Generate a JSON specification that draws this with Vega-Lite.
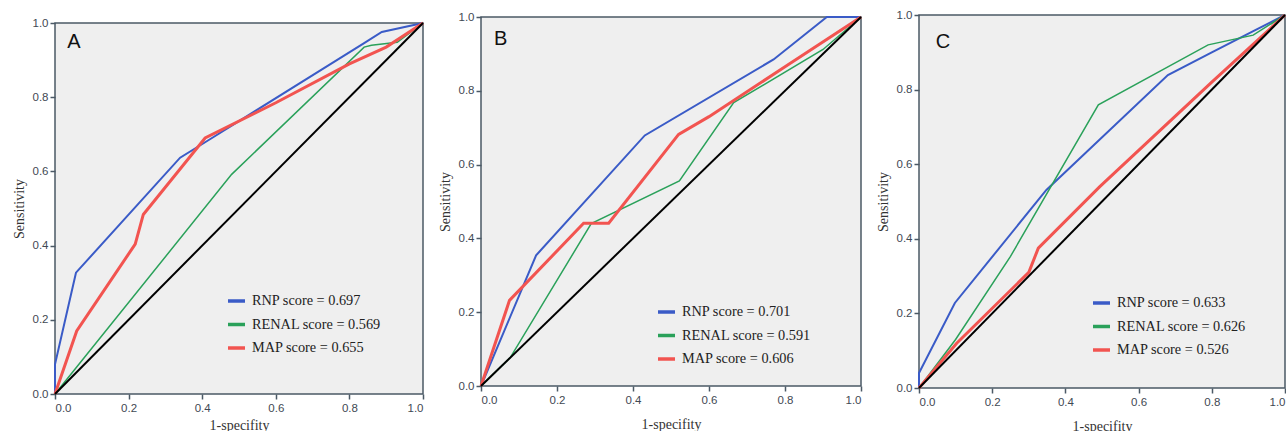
{
  "$schema": "https://vega.github.io/schema/vega-lite/v6.json",
  "background": "white",
  "padding": {"left": 11, "top": 2, "right": 0, "bottom": 0},
  "config": {
    "view": {"fill": "#efefef", "stroke": "#4b5966", "strokeWidth": 1.5},
    "axis": {
      "grid": false, "domain": false, "tickColor": "#4b5966", "tickSize": 5, "tickWidth": 1.5,
      "labelFont": "Liberation Sans", "labelFontSize": 11.5, "labelColor": "#3f4953", "labelPadding": 2,
      "titleFont": "Liberation Serif, DejaVu Serif, serif", "titleFontSize": 14, "titleFontWeight": "normal", "titleColor": "#333333"
    },
    "axisX": {"labelPadding": 3, "titlePadding": 5},
    "axisY": {"titlePadding": 6},
    "legend": {
      "symbolType": "stroke", "symbolStrokeWidth": 3.5, "symbolSize": 289,
      "labelFont": "Liberation Serif, DejaVu Serif, serif", "labelFontSize": 14.3, "labelColor": "#222222",
      "labelOffset": 5, "rowPadding": 5.5, "padding": 0, "labelLimit": 300
    }
  },
  "datasets": {
    "roc": [
      {"p": "A", "s": "RNP", "label": "RNP score = 0.697", "i": 0, "x": 0, "y": 0},
      {"p": "A", "s": "RNP", "label": "RNP score = 0.697", "i": 1, "x": 0, "y": 0.08},
      {"p": "A", "s": "RNP", "label": "RNP score = 0.697", "i": 2, "x": 0.057, "y": 0.327},
      {"p": "A", "s": "RNP", "label": "RNP score = 0.697", "i": 3, "x": 0.34, "y": 0.637},
      {"p": "A", "s": "RNP", "label": "RNP score = 0.697", "i": 4, "x": 0.42, "y": 0.686},
      {"p": "A", "s": "RNP", "label": "RNP score = 0.697", "i": 5, "x": 0.84, "y": 0.946},
      {"p": "A", "s": "RNP", "label": "RNP score = 0.697", "i": 6, "x": 0.888, "y": 0.976},
      {"p": "A", "s": "RNP", "label": "RNP score = 0.697", "i": 7, "x": 1, "y": 1},
      {"p": "A", "s": "RENAL", "label": "RENAL score = 0.569", "i": 0, "x": 0, "y": 0},
      {"p": "A", "s": "RENAL", "label": "RENAL score = 0.569", "i": 1, "x": 0.065, "y": 0.08},
      {"p": "A", "s": "RENAL", "label": "RENAL score = 0.569", "i": 2, "x": 0.48, "y": 0.592},
      {"p": "A", "s": "RENAL", "label": "RENAL score = 0.569", "i": 3, "x": 0.84, "y": 0.935},
      {"p": "A", "s": "RENAL", "label": "RENAL score = 0.569", "i": 4, "x": 0.86, "y": 0.94},
      {"p": "A", "s": "RENAL", "label": "RENAL score = 0.569", "i": 5, "x": 0.93, "y": 0.948},
      {"p": "A", "s": "RENAL", "label": "RENAL score = 0.569", "i": 6, "x": 1, "y": 1},
      {"p": "A", "s": "MAP", "label": "MAP score = 0.655", "i": 0, "x": 0, "y": 0},
      {"p": "A", "s": "MAP", "label": "MAP score = 0.655", "i": 1, "x": 0.059, "y": 0.17},
      {"p": "A", "s": "MAP", "label": "MAP score = 0.655", "i": 2, "x": 0.218, "y": 0.404},
      {"p": "A", "s": "MAP", "label": "MAP score = 0.655", "i": 3, "x": 0.24, "y": 0.484},
      {"p": "A", "s": "MAP", "label": "MAP score = 0.655", "i": 4, "x": 0.408, "y": 0.69},
      {"p": "A", "s": "MAP", "label": "MAP score = 0.655", "i": 5, "x": 0.6, "y": 0.785},
      {"p": "A", "s": "MAP", "label": "MAP score = 0.655", "i": 6, "x": 0.8, "y": 0.89},
      {"p": "A", "s": "MAP", "label": "MAP score = 0.655", "i": 7, "x": 0.9, "y": 0.935},
      {"p": "A", "s": "MAP", "label": "MAP score = 0.655", "i": 8, "x": 1, "y": 1},
      {"p": "B", "s": "RNP", "label": "RNP score = 0.701", "i": 0, "x": 0, "y": 0},
      {"p": "B", "s": "RNP", "label": "RNP score = 0.701", "i": 1, "x": 0.145, "y": 0.354},
      {"p": "B", "s": "RNP", "label": "RNP score = 0.701", "i": 2, "x": 0.431, "y": 0.679},
      {"p": "B", "s": "RNP", "label": "RNP score = 0.701", "i": 3, "x": 0.77, "y": 0.885},
      {"p": "B", "s": "RNP", "label": "RNP score = 0.701", "i": 4, "x": 0.91, "y": 1},
      {"p": "B", "s": "RNP", "label": "RNP score = 0.701", "i": 5, "x": 1, "y": 1},
      {"p": "B", "s": "RENAL", "label": "RENAL score = 0.591", "i": 0, "x": 0, "y": 0},
      {"p": "B", "s": "RENAL", "label": "RENAL score = 0.591", "i": 1, "x": 0.077, "y": 0.077},
      {"p": "B", "s": "RENAL", "label": "RENAL score = 0.591", "i": 2, "x": 0.29, "y": 0.44},
      {"p": "B", "s": "RENAL", "label": "RENAL score = 0.591", "i": 3, "x": 0.522, "y": 0.556},
      {"p": "B", "s": "RENAL", "label": "RENAL score = 0.591", "i": 4, "x": 0.665, "y": 0.768},
      {"p": "B", "s": "RENAL", "label": "RENAL score = 0.591", "i": 5, "x": 0.9, "y": 0.912},
      {"p": "B", "s": "RENAL", "label": "RENAL score = 0.591", "i": 6, "x": 1, "y": 1},
      {"p": "B", "s": "MAP", "label": "MAP score = 0.606", "i": 0, "x": 0, "y": 0},
      {"p": "B", "s": "MAP", "label": "MAP score = 0.606", "i": 1, "x": 0.075, "y": 0.232},
      {"p": "B", "s": "MAP", "label": "MAP score = 0.606", "i": 2, "x": 0.27, "y": 0.441},
      {"p": "B", "s": "MAP", "label": "MAP score = 0.606", "i": 3, "x": 0.336, "y": 0.441},
      {"p": "B", "s": "MAP", "label": "MAP score = 0.606", "i": 4, "x": 0.52, "y": 0.682},
      {"p": "B", "s": "MAP", "label": "MAP score = 0.606", "i": 5, "x": 0.6, "y": 0.73},
      {"p": "B", "s": "MAP", "label": "MAP score = 0.606", "i": 6, "x": 0.8, "y": 0.865},
      {"p": "B", "s": "MAP", "label": "MAP score = 0.606", "i": 7, "x": 1, "y": 1},
      {"p": "C", "s": "RNP", "label": "RNP score = 0.633", "i": 0, "x": 0, "y": 0},
      {"p": "C", "s": "RNP", "label": "RNP score = 0.633", "i": 1, "x": 0, "y": 0.04},
      {"p": "C", "s": "RNP", "label": "RNP score = 0.633", "i": 2, "x": 0.098, "y": 0.228},
      {"p": "C", "s": "RNP", "label": "RNP score = 0.633", "i": 3, "x": 0.348, "y": 0.531},
      {"p": "C", "s": "RNP", "label": "RNP score = 0.633", "i": 4, "x": 0.68, "y": 0.839},
      {"p": "C", "s": "RNP", "label": "RNP score = 0.633", "i": 5, "x": 0.8, "y": 0.9},
      {"p": "C", "s": "RNP", "label": "RNP score = 0.633", "i": 6, "x": 0.92, "y": 0.96},
      {"p": "C", "s": "RNP", "label": "RNP score = 0.633", "i": 7, "x": 1, "y": 1},
      {"p": "C", "s": "RENAL", "label": "RENAL score = 0.626", "i": 0, "x": 0, "y": 0},
      {"p": "C", "s": "RENAL", "label": "RENAL score = 0.626", "i": 1, "x": 0.1, "y": 0.13},
      {"p": "C", "s": "RENAL", "label": "RENAL score = 0.626", "i": 2, "x": 0.25, "y": 0.353},
      {"p": "C", "s": "RENAL", "label": "RENAL score = 0.626", "i": 3, "x": 0.49, "y": 0.759},
      {"p": "C", "s": "RENAL", "label": "RENAL score = 0.626", "i": 4, "x": 0.79, "y": 0.92},
      {"p": "C", "s": "RENAL", "label": "RENAL score = 0.626", "i": 5, "x": 0.913, "y": 0.946},
      {"p": "C", "s": "RENAL", "label": "RENAL score = 0.626", "i": 6, "x": 1, "y": 1},
      {"p": "C", "s": "MAP", "label": "MAP score = 0.526", "i": 0, "x": 0, "y": 0},
      {"p": "C", "s": "MAP", "label": "MAP score = 0.526", "i": 1, "x": 0.103, "y": 0.12},
      {"p": "C", "s": "MAP", "label": "MAP score = 0.526", "i": 2, "x": 0.3, "y": 0.31},
      {"p": "C", "s": "MAP", "label": "MAP score = 0.526", "i": 3, "x": 0.326, "y": 0.375},
      {"p": "C", "s": "MAP", "label": "MAP score = 0.526", "i": 4, "x": 0.494, "y": 0.54},
      {"p": "C", "s": "MAP", "label": "MAP score = 0.526", "i": 5, "x": 0.8, "y": 0.82},
      {"p": "C", "s": "MAP", "label": "MAP score = 0.526", "i": 6, "x": 1, "y": 1}
    ],
    "diag": [{"x": 0, "y": 0}, {"x": 1, "y": 1}],
    "letters": [
      {"p": "A", "t": "A", "x": 0.033, "y": 0.949},
      {"p": "B", "t": "B", "x": 0.034, "y": 0.94},
      {"p": "C", "t": "C", "x": 0.046, "y": 0.928}
    ]
  },
  "spacing": 7,
  "resolve": {"scale": {"color": "independent"}, "legend": {"color": "independent"}},
  "hconcat": [
    {
      "spacing": 0,
      "vconcat": [
        {"width": 368, "height": 11, "data": {"values": [{"k": 1}]}, "mark": {"type": "point", "opacity": 0}, "encoding": {}, "view": {"fill": null, "stroke": null}},
        {
          "width": 368, "height": 371,
          "layer": [
            {
              "data": {"name": "roc"},
              "transform": [{"filter": "datum.p === 'A' && datum.s === 'RNP'"}],
              "mark": {"type": "line", "strokeWidth": 2},
              "encoding": {
                "x": {"field": "x", "type": "quantitative", "scale": {"domain": [0, 1], "nice": false},
                      "axis": {"values": [0, 0.2, 0.4, 0.6, 0.8, 1], "format": ".1f", "title": "1-specifity"}},
                "y": {"field": "y", "type": "quantitative", "scale": {"domain": [0, 1], "nice": false},
                      "axis": {"values": [0, 0.2, 0.4, 0.6, 0.8, 1], "format": ".1f", "title": "Sensitivity"}},
                "color": {"field": "label", "type": "nominal",
                          "scale": {"domain": ["RNP score = 0.697", "RENAL score = 0.569", "MAP score = 0.655"], "range": ["#3a5bc7", "#2aa15a", "#f25450"]},
                          "legend": {"orient": "none", "legendX": 171, "legendY": 285.5, "title": null}},
                "order": {"field": "i", "type": "quantitative"}
              }
            },
            {
              "data": {"name": "roc"},
              "transform": [{"filter": "datum.p === 'A' && datum.s === 'RENAL'"}],
              "mark": {"type": "line", "strokeWidth": 1.5},
              "encoding": {
                "x": {"field": "x", "type": "quantitative"},
                "y": {"field": "y", "type": "quantitative"},
                "color": {"field": "label", "type": "nominal"},
                "order": {"field": "i", "type": "quantitative"}
              }
            },
            {
              "data": {"name": "roc"},
              "transform": [{"filter": "datum.p === 'A' && datum.s === 'MAP'"}],
              "mark": {"type": "line", "strokeWidth": 3},
              "encoding": {
                "x": {"field": "x", "type": "quantitative"},
                "y": {"field": "y", "type": "quantitative"},
                "color": {"field": "label", "type": "nominal"},
                "order": {"field": "i", "type": "quantitative"}
              }
            },
            {
              "data": {"name": "diag"},
              "mark": {"type": "line", "color": "black", "strokeWidth": 2},
              "encoding": {"x": {"field": "x", "type": "quantitative"}, "y": {"field": "y", "type": "quantitative"}}
            },
            {
              "data": {"name": "letters"},
              "transform": [{"filter": "datum.p === 'A'"}],
              "mark": {"type": "text", "align": "left", "baseline": "middle", "font": "Liberation Sans", "fontSize": 20, "color": "#111111"},
              "encoding": {"x": {"field": "x", "type": "quantitative"}, "y": {"field": "y", "type": "quantitative"}, "text": {"field": "t"}}
            }
          ]
        }
      ]
    },
    {
      "spacing": 0,
      "vconcat": [
        {"width": 380, "height": 4.5, "data": {"values": [{"k": 1}]}, "mark": {"type": "point", "opacity": 0}, "encoding": {}, "view": {"fill": null, "stroke": null}},
        {
          "width": 380, "height": 369,
          "layer": [
            {
              "data": {"name": "roc"},
              "transform": [{"filter": "datum.p === 'B' && datum.s === 'RNP'"}],
              "mark": {"type": "line", "strokeWidth": 2},
              "encoding": {
                "x": {"field": "x", "type": "quantitative", "scale": {"domain": [0, 1], "nice": false},
                      "axis": {"values": [0, 0.2, 0.4, 0.6, 0.8, 1], "format": ".1f", "title": "1-specifity", "titlePadding": 12}},
                "y": {"field": "y", "type": "quantitative", "scale": {"domain": [0, 1], "nice": false},
                      "axis": {"values": [0, 0.2, 0.4, 0.6, 0.8, 1], "format": ".1f", "title": "Sensitivity"}},
                "color": {"field": "label", "type": "nominal",
                          "scale": {"domain": ["RNP score = 0.701", "RENAL score = 0.591", "MAP score = 0.606"], "range": ["#3a5bc7", "#2aa15a", "#f25450"]},
                          "legend": {"orient": "none", "legendX": 175, "legendY": 296.5, "title": null}},
                "order": {"field": "i", "type": "quantitative"}
              }
            },
            {
              "data": {"name": "roc"},
              "transform": [{"filter": "datum.p === 'B' && datum.s === 'RENAL'"}],
              "mark": {"type": "line", "strokeWidth": 1.5},
              "encoding": {
                "x": {"field": "x", "type": "quantitative"},
                "y": {"field": "y", "type": "quantitative"},
                "color": {"field": "label", "type": "nominal"},
                "order": {"field": "i", "type": "quantitative"}
              }
            },
            {
              "data": {"name": "roc"},
              "transform": [{"filter": "datum.p === 'B' && datum.s === 'MAP'"}],
              "mark": {"type": "line", "strokeWidth": 3},
              "encoding": {
                "x": {"field": "x", "type": "quantitative"},
                "y": {"field": "y", "type": "quantitative"},
                "color": {"field": "label", "type": "nominal"},
                "order": {"field": "i", "type": "quantitative"}
              }
            },
            {
              "data": {"name": "diag"},
              "mark": {"type": "line", "color": "black", "strokeWidth": 2},
              "encoding": {"x": {"field": "x", "type": "quantitative"}, "y": {"field": "y", "type": "quantitative"}}
            },
            {
              "data": {"name": "letters"},
              "transform": [{"filter": "datum.p === 'B'"}],
              "mark": {"type": "text", "align": "left", "baseline": "middle", "font": "Liberation Sans", "fontSize": 20, "color": "#111111"},
              "encoding": {"x": {"field": "x", "type": "quantitative"}, "y": {"field": "y", "type": "quantitative"}, "text": {"field": "t"}}
            }
          ]
        }
      ]
    },
    {
      "spacing": 0,
      "vconcat": [
        {"width": 366, "height": 0.5, "data": {"values": [{"k": 1}]}, "mark": {"type": "point", "opacity": 0}, "encoding": {}, "view": {"fill": null, "stroke": null}},
        {
          "width": 366, "height": 373,
          "layer": [
            {
              "data": {"name": "roc"},
              "transform": [{"filter": "datum.p === 'C' && datum.s === 'RNP'"}],
              "mark": {"type": "line", "strokeWidth": 2},
              "encoding": {
                "x": {"field": "x", "type": "quantitative", "scale": {"domain": [0, 1], "nice": false},
                      "axis": {"values": [0, 0.2, 0.4, 0.6, 0.8, 1], "format": ".1f", "title": "1-specifity", "titlePadding": 12}},
                "y": {"field": "y", "type": "quantitative", "scale": {"domain": [0, 1], "nice": false},
                      "axis": {"values": [0, 0.2, 0.4, 0.6, 0.8, 1], "format": ".1f", "title": "Sensitivity"}},
                "color": {"field": "label", "type": "nominal",
                          "scale": {"domain": ["RNP score = 0.633", "RENAL score = 0.626", "MAP score = 0.526"], "range": ["#3a5bc7", "#2aa15a", "#f25450"]},
                          "legend": {"orient": "none", "legendX": 172, "legendY": 287.5, "title": null}},
                "order": {"field": "i", "type": "quantitative"}
              }
            },
            {
              "data": {"name": "roc"},
              "transform": [{"filter": "datum.p === 'C' && datum.s === 'RENAL'"}],
              "mark": {"type": "line", "strokeWidth": 1.5},
              "encoding": {
                "x": {"field": "x", "type": "quantitative"},
                "y": {"field": "y", "type": "quantitative"},
                "color": {"field": "label", "type": "nominal"},
                "order": {"field": "i", "type": "quantitative"}
              }
            },
            {
              "data": {"name": "roc"},
              "transform": [{"filter": "datum.p === 'C' && datum.s === 'MAP'"}],
              "mark": {"type": "line", "strokeWidth": 3},
              "encoding": {
                "x": {"field": "x", "type": "quantitative"},
                "y": {"field": "y", "type": "quantitative"},
                "color": {"field": "label", "type": "nominal"},
                "order": {"field": "i", "type": "quantitative"}
              }
            },
            {
              "data": {"name": "diag"},
              "mark": {"type": "line", "color": "black", "strokeWidth": 2},
              "encoding": {"x": {"field": "x", "type": "quantitative"}, "y": {"field": "y", "type": "quantitative"}}
            },
            {
              "data": {"name": "letters"},
              "transform": [{"filter": "datum.p === 'C'"}],
              "mark": {"type": "text", "align": "left", "baseline": "middle", "font": "Liberation Sans", "fontSize": 20, "color": "#111111"},
              "encoding": {"x": {"field": "x", "type": "quantitative"}, "y": {"field": "y", "type": "quantitative"}, "text": {"field": "t"}}
            }
          ]
        }
      ]
    }
  ]
}
